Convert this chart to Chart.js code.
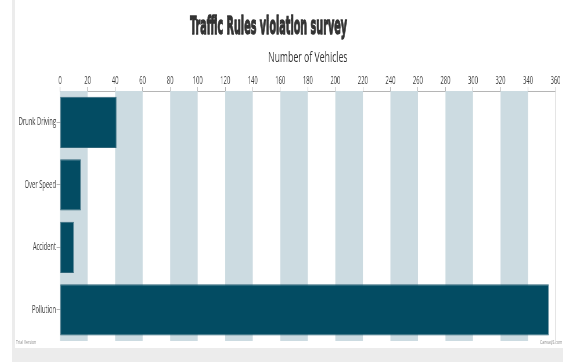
<!DOCTYPE html>
<html>
<head>
<meta charset="utf-8">
<script src="https://cdn.jsdelivr.net/npm/chart.js@4/dist/chart.umd.min.js"></script>
<style>
  html, body { margin: 0; padding: 0; background: #ffffff; }
  body { width: 563px; height: 362px; overflow: hidden; position: relative; }
  #frame {
    position: absolute; left: 12px; top: 0; width: 551px; height: 362px;
    background: #ececec;
  }
  #card {
    position: absolute; left: 3px; top: 0; width: 548px; height: 348px;
    background: #ffffff; overflow: hidden;
  }
  #title {
    position: absolute; top: 11px; left: 0; white-space: nowrap;
    font-family: "DejaVu Sans", sans-serif; font-weight: bold; font-size: 25px;
    color: #333333; -webkit-text-stroke: 1.3px #333333;
    transform-origin: 0 0;
  }
  /* the chart is laid out wide and narrowed horizontally */
  #chartBox {
    position: absolute; left: 0; top: 0; height: 348px;
    transform-origin: 0 0;
  }
  .credit {
    position: absolute; font-family: "Open Sans", sans-serif;
    font-size: 6px; color: #8a8a8a; top: 338px; white-space: nowrap;
    transform-origin: 0 0; transform: scaleX(0.58);
  }
</style>
</head>
<body>
<div id="frame">
  <div id="card">
    <div id="chartBox"><canvas id="chart"></canvas></div>
    <div id="title">Traffic Rules violation survey</div>
    <div class="credit" style="left:1px">Trial Version</div>
    <div class="credit" style="left:525px">CanvasJS.com</div>
  </div>
</div>
<script>
// Survey data
const categories = ['Drunk Driving', 'Over Speed', 'Accident', 'Pollution'];
const vehicleCounts = [41, 15, 10, 355];
const axisMin = 0;
const axisMax = 360;
const axisStep = 20;

// horizontal narrowing of the whole chart
const squeeze = 0.58;
const cardWidth = 548;
const box = document.getElementById('chartBox');
box.style.width = (cardWidth / squeeze) + 'px';
box.style.transform = 'scaleX(' + squeeze + ')';

// Fit the condensed heading to its width and centre it
(function () {
  const t = document.getElementById('title');
  const w = t.getBoundingClientRect().width;
  const target = 157;
  t.style.transform = 'scaleX(' + (target / w) + ')';
  t.style.left = (253.5 - target / 2) + 'px';
})();

const uiFont = '"Open Sans", sans-serif';

// Alternating vertical bands behind the bars
const bandPlugin = {
  id: 'bands',
  beforeDatasetsDraw(chart) {
    const { ctx, chartArea, scales } = chart;
    const x = scales.x;
    ctx.save();
    ctx.fillStyle = '#ccdbe1';
    for (let v = axisMin; v < axisMax; v += axisStep * 2) {
      const x0 = x.getPixelForValue(v);
      const x1 = x.getPixelForValue(v + axisStep);
      ctx.fillRect(x0, chartArea.top, x1 - x0, chartArea.bottom - chartArea.top);
    }
    ctx.strokeStyle = '#dddddd';
    ctx.lineWidth = 1.5;
    ctx.beginPath();
    const xr = x.getPixelForValue(axisMax);
    ctx.moveTo(xr, chartArea.top);
    ctx.lineTo(xr, chartArea.bottom);
    ctx.stroke();
    ctx.restore();
  }
};

new Chart(document.getElementById('chart'), {
  type: 'bar',
  data: {
    labels: categories,
    datasets: [{
      data: vehicleCounts,
      backgroundColor: '#034c63',
      borderColor: '#2f6679',
      borderWidth: 1,
      borderSkipped: false,
      categoryPercentage: 1,
      barPercentage: 0.82
    }]
  },
  options: {
    indexAxis: 'y',
    responsive: true,
    maintainAspectRatio: false,
    animation: false,
    layout: { padding: { top: 46, right: 8 / squeeze, bottom: 7, left: 0 } },
    plugins: {
      legend: { display: false },
      tooltip: { enabled: false }
    },
    scales: {
      x: {
        position: 'top',
        min: axisMin,
        max: axisMax,
        afterFit(scale) { scale.height = 45; },
        ticks: {
          stepSize: axisStep,
          color: '#3a3a3a',
          padding: 0,
          maxRotation: 0,
          autoSkip: false,
          font: { family: uiFont, size: 10 }
        },
        grid: {
          drawOnChartArea: false,
          tickLength: 4,
          color: '#b5b5b5'
        },
        border: { display: true, color: '#b5b5b5' },
        title: {
          display: true,
          text: 'Number of Vehicles',
          color: '#333333',
          padding: { top: 3, bottom: 0 },
          font: { family: uiFont, size: 15 }
        }
      },
      y: {
        afterFit(scale) { scale.width = 45 / squeeze; },
        ticks: {
          color: '#3a3a3a',
          padding: 1,
          font: { family: uiFont, size: 10 }
        },
        grid: {
          offset: false,
          drawOnChartArea: false,
          tickLength: 6,
          color: '#b5b5b5'
        },
        border: { display: false }
      }
    }
  },
  plugins: [bandPlugin]
});
</script>
</body>
</html>
